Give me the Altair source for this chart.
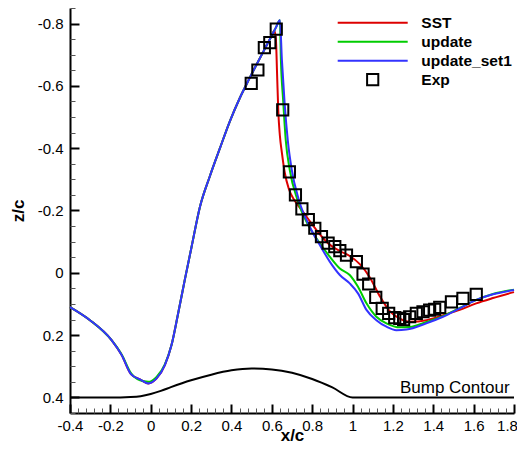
import altair as alt
import pandas as pd

FONT = "Liberation Sans, Arial, Helvetica, sans-serif"

series_names = ["SST", "update", "update_set1", "Exp"]
series_colors = ["#dd0000", "#00cc00", "#3333ff", "#000000"]
legend_shapes = ["stroke", "stroke", "stroke", "M-0.16,-0.16H0.16V0.16H-0.16Z"]

# upstream part shared by all three computations
base_x = [-0.4, -0.301, -0.194, -0.144, -0.098, -0.053, -0.012, 0.029, 0.070, 0.103,
          0.135, 0.169, 0.202, 0.244, 0.293, 0.343, 0.392, 0.442, 0.476, 0.520, 0.570, 0.600]
base_z = [0.110, 0.152, 0.216, 0.264, 0.325, 0.342, 0.355, 0.339, 0.296, 0.232,
          0.133, 0.022, -0.082, -0.212, -0.310, -0.400, -0.486, -0.562, -0.607, -0.663, -0.725, -0.762]
green_dip_z = [0.110, 0.152, 0.216, 0.262, 0.322, 0.345, 0.350, 0.334, 0.294, 0.232,
               0.133, 0.022, -0.082, -0.212, -0.310, -0.400, -0.486, -0.562, -0.607, -0.663, -0.725, -0.762]

sst_tail_x = [0.612, 0.620, 0.626, 0.632, 0.640, 0.650, 0.664, 0.684, 0.710, 0.750, 0.813, 0.877,
              0.937, 0.986, 1.036, 1.085, 1.135, 1.184, 1.234, 1.283, 1.366, 1.448, 1.531, 1.613, 1.696, 1.8]
sst_tail_z = [-0.778, -0.752, -0.640, -0.520, -0.440, -0.385, -0.322, -0.270, -0.235, -0.200, -0.144, -0.096,
              -0.070, -0.054, -0.028, 0.014, 0.075, 0.123, 0.147, 0.157, 0.152, 0.136, 0.119, 0.098, 0.081, 0.062]

upd_tail_x = [0.620, 0.640, 0.645, 0.656, 0.669, 0.689, 0.727, 0.783, 0.838, 0.887, 0.937, 0.986, 1.027,
              1.069, 1.118, 1.168, 1.234, 1.283, 1.366, 1.448, 1.531, 1.613, 1.696, 1.8]
upd_tail_z = [-0.787, -0.811, -0.683, -0.555, -0.426, -0.330, -0.234, -0.150, -0.095, -0.052, -0.014, 0.007, 0.045,
              0.098, 0.141, 0.162, 0.175, 0.174, 0.158, 0.139, 0.113, 0.087, 0.068, 0.054]

set1_tail_x = [0.620, 0.640, 0.650, 0.664, 0.679, 0.699, 0.734, 0.788, 0.838, 0.887, 0.937, 0.986, 1.027,
               1.069, 1.118, 1.168, 1.217, 1.267, 1.366, 1.448, 1.531, 1.613, 1.696, 1.8]
set1_tail_z = [-0.787, -0.811, -0.683, -0.539, -0.426, -0.330, -0.234, -0.148, -0.089, -0.036, 0.007, 0.034, 0.066,
               0.119, 0.152, 0.173, 0.184, 0.182, 0.162, 0.141, 0.114, 0.087, 0.069, 0.055]

exp_x = [0.498, 0.531, 0.563, 0.590, 0.622, 0.654, 0.687, 0.717, 0.749, 0.781, 0.813, 0.846,
         0.879, 0.912, 0.937, 0.970, 1.019, 1.052, 1.080, 1.115, 1.147, 1.179, 1.209, 1.234,
         1.253, 1.283, 1.316, 1.349, 1.382, 1.407, 1.432, 1.490, 1.547, 1.613]
exp_z = [-0.608, -0.651, -0.723, -0.739, -0.782, -0.523, -0.324, -0.250, -0.205, -0.171, -0.143, -0.116,
         -0.095, -0.084, -0.071, -0.057, -0.036, 0.004, 0.036, 0.079, 0.114, 0.130, 0.144, 0.146,
         0.150, 0.141, 0.130, 0.125, 0.120, 0.117, 0.111, 0.093, 0.082, 0.069]

bump_x = [-0.4, -0.15, -0.1, -0.05, 0.0, 0.05, 0.1, 0.2, 0.3, 0.4, 0.5, 0.6, 0.7, 0.8, 0.9, 1.0, 1.8]
bump_z = [0.400, 0.400, 0.399, 0.396, 0.389, 0.379, 0.367, 0.345, 0.327, 0.313, 0.307, 0.310, 0.321, 0.341, 0.368, 0.400, 0.400]

x_major = [-0.4, -0.2, 0, 0.2, 0.4, 0.6, 0.8, 1, 1.2, 1.4, 1.6, 1.8]
y_major = [-0.8, -0.6, -0.4, -0.2, 0, 0.2, 0.4]
x_minor = [round(-0.4 + 0.04 * i, 2) for i in range(56) if i % 5 != 0]
y_minor = [round(-0.85 + 0.05 * i, 2) for i in range(27) if (i - 1) % 4 != 0]

rows = []
for name, xs_, zs_ in [("SST", base_x + sst_tail_x, base_z + sst_tail_z),
                       ("update", base_x + upd_tail_x, green_dip_z + upd_tail_z),
                       ("update_set1", base_x + set1_tail_x, base_z + set1_tail_z)]:
    for i, (a, b) in enumerate(zip(xs_, zs_)):
        rows.append({"series": name, "x": a, "z": b, "idx": i})
lines_df = pd.DataFrame(rows)
exp_df = pd.DataFrame({"series": "Exp", "x": exp_x, "z": exp_z})
bump_df = pd.DataFrame({"x": bump_x, "z": bump_z, "idx": list(range(len(bump_x)))})

xs = alt.Scale(domain=[-0.4, 1.8], nice=False, zero=False)
ys = alt.Scale(domain=[-0.85, 0.45], reverse=True, nice=False, zero=False)
color_scale = alt.Scale(domain=series_names, range=series_colors)
shape_scale = alt.Scale(domain=series_names, range=legend_shapes)


def make_legend():
    return alt.Legend(orient="none", legendX=266.7, legendY=5.2, title=None,
                      clipHeight=19, rowPadding=0, labelOffset=12.6, padding=0,
                      symbolStrokeWidth=2, symbolSize=4900, labelFont=FONT,
                      labelFontSize=15.5, labelFontWeight="bold", labelColor="black",
                      labelLimit=0)


def major_axis(vals, orient, pad, **kw):
    return alt.Axis(orient=orient, values=vals, offset=-9, tickSize=9, tickWidth=2, tickColor="black",
                    domain=False, grid=False, labelExpr="'' + datum.value", labelFont=FONT,
                    labelFontSize=15, labelColor="black", labelPadding=pad, labelFlush=False,
                    labelOverlap=False, title=None, **kw)


def minor_axis(vals, orient):
    return alt.Axis(orient=orient, values=vals, offset=-5, tickSize=5, tickWidth=1, tickColor="#555555",
                    domain=False, grid=False, labels=False, title=None)


x_dom = alt.Axis(orient="bottom", ticks=False, labels=False, domain=True, domainColor="black",
                 domainWidth=2, grid=False, title="x/c", titleFont=FONT, titleFontSize=17,
                 titleFontWeight="bold", titleColor="black", titleX=222, titleY=27,
                 titleBaseline="alphabetic", titleAlign="center")
y_dom = alt.Axis(orient="left", ticks=False, labels=False, domain=True, domainColor="black",
                 domainWidth=2, grid=False, title="z/c", titleFont=FONT, titleFontSize=17,
                 titleFontWeight="bold", titleColor="black", titleX=-47, titleY=202.5,
                 titleAngle=270, titleBaseline="alphabetic", titleAlign="center")

bump = alt.Chart(bump_df).mark_line(color="black", strokeWidth=2, interpolate="monotone").encode(
    x=alt.X("x:Q", scale=xs, axis=x_dom),
    y=alt.Y("z:Q", scale=ys, axis=y_dom),
    order="idx:Q",
)

lines = alt.Chart(lines_df).mark_line(strokeWidth=2, interpolate="monotone").encode(
    x=alt.X("x:Q", scale=xs, axis=major_axis(
        x_major, "bottom", 5,
        labelOffset={"condition": {"test": "datum.value > 1.7", "value": -7}, "value": 0})),
    y=alt.Y("z:Q", scale=ys, axis=major_axis(y_major, "left", 7)),
    color=alt.Color("series:N", scale=color_scale, legend=make_legend()),
    order="idx:Q",
)

points = alt.Chart(exp_df).mark_point(filled=False, strokeWidth=2, size=4900, opacity=1).encode(
    x=alt.X("x:Q", scale=xs, axis=minor_axis(x_minor, "bottom")),
    y=alt.Y("z:Q", scale=ys, axis=minor_axis(y_minor, "left")),
    color=alt.Color("series:N", scale=color_scale, legend=make_legend()),
    shape=alt.Shape("series:N", scale=shape_scale, legend=make_legend()),
)

label = alt.Chart(pd.DataFrame({"t": ["Bump Contour"]})).mark_text(
    align="right", baseline="alphabetic", font=FONT, fontSize=17, color="black"
).encode(
    x=alt.X(datum=1.778, scale=xs, axis=None),
    y=alt.Y(datum=0.386, scale=ys, axis=None),
    text="t:N",
)

chart = alt.layer(bump, lines, points, label).resolve_axis(
    x="independent", y="independent"
).properties(
    width=444, height=405,
    autosize=alt.AutoSizeParams(type="none"),
    padding={"left": 62, "top": 0, "right": 3, "bottom": 32},
    background="white",
).configure_view(stroke=None)

chart.save("out.html", embed_options={"renderer": "svg", "actions": False})
